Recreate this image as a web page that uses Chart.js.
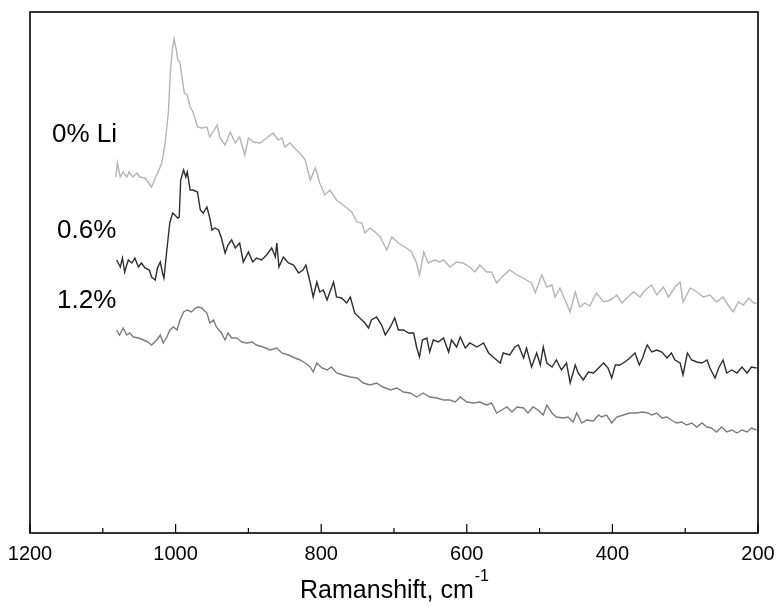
<!DOCTYPE html>
<html>
<head>
<meta charset="utf-8">
<script src="https://cdn.jsdelivr.net/npm/chart.js@4.4.0/dist/chart.umd.min.js"></script>
<style>
  html, body { margin: 0; padding: 0; background: #fff; }
  #wrap { width: 777px; height: 607px; }
</style>
</head>
<body>
<div id="wrap"><canvas id="ramanChart" width="777" height="607"></canvas></div>
<script>
// Raman shift (cm-1) and intensity (arb. units)
const shift0Li = [1082,1080,1076,1072,1067,1064,1059,1053,1049,1042,1038,1033,1028,1024,1019,1015,1010,1007,1004,1002,999,997,994,992,988,984,980,976,970,964,957,953,943,939,932,925,918,912,905,900,893,884,875,866,859,854,850,843,834,827,822,815,808,802,795,788,779,770,758,751,744,740,733,726,719,710,703,694,683,676,669,665,659,653,644,637,632,623,614,605,596,589,582,573,566,559,552,541,531,525,518,511,506,497,490,483,479,472,465,458,451,445,438,431,422,412,403,394,387,380,371,362,355,346,339,330,323,314,307,303,293,284,275,266,257,248,241,234,227,220,213,206,202];
const int0Li = [356,370,356,361,356,361,356,360,356,355,351,346,355,361,370,386,420,463,486,494,483,473,471,460,440,438,426,421,406,405,406,396,408,395,388,401,390,396,378,395,391,390,395,400,393,395,386,390,383,378,373,353,365,350,338,343,333,328,321,311,310,300,305,301,296,283,296,290,285,281,270,258,281,270,273,271,273,266,271,270,266,261,268,261,261,250,256,263,258,256,253,250,240,258,246,248,236,245,233,221,241,226,230,227,240,231,233,238,230,235,241,236,243,248,238,246,236,246,251,231,245,241,236,238,231,236,228,221,231,228,235,230,230];

const shift06 = [1081,1076,1073,1070,1065,1060,1056,1051,1047,1042,1036,1033,1028,1025,1021,1018,1016,1012,1008,1004,1001,997,995,993,989,986,984,980,976,970,966,962,957,953,950,946,941,937,932,928,923,918,912,907,900,894,889,882,875,868,863,861,858,852,845,838,831,825,821,815,811,806,802,797,792,788,783,779,772,765,760,754,747,740,735,731,724,717,712,705,699,694,687,680,673,669,665,661,655,651,646,639,632,625,621,614,609,602,596,586,577,570,564,554,550,541,534,529,522,518,511,504,499,495,490,483,477,470,463,458,451,447,440,433,426,419,412,406,401,396,390,383,376,369,363,358,355,352,346,339,332,325,319,314,307,303,297,291,284,277,270,266,259,254,248,243,236,229,222,215,209,202];
const int06 = [273,266,275,261,273,270,275,266,270,265,263,256,253,265,271,260,255,283,310,320,318,315,316,353,363,356,361,343,343,341,323,320,326,315,303,305,303,295,280,288,293,285,290,271,281,271,275,273,278,285,276,290,266,276,270,268,260,263,268,250,236,251,241,243,233,241,251,236,235,230,236,220,215,210,205,213,216,208,198,206,215,203,203,200,200,186,176,193,195,181,193,191,195,181,193,186,196,185,190,186,190,180,176,170,180,178,186,188,175,185,166,180,168,186,170,166,173,163,170,150,168,160,153,161,160,165,170,165,155,168,168,171,175,180,168,176,183,188,181,183,181,175,180,173,170,158,180,173,171,170,173,165,155,165,173,160,163,160,166,160,166,165];

const shift12 = [1081,1077,1072,1067,1063,1058,1051,1044,1038,1033,1026,1021,1017,1012,1008,1003,998,994,989,984,978,973,969,964,957,953,948,944,937,932,928,923,916,909,902,895,889,880,870,861,854,845,836,829,822,815,811,806,799,792,786,779,770,760,751,742,733,724,715,705,696,687,678,669,660,651,641,632,623,616,609,600,591,582,573,566,559,552,545,538,531,522,516,509,502,495,490,483,477,467,461,454,449,442,435,426,419,415,408,401,394,385,376,367,358,351,346,339,332,325,319,312,305,298,291,284,277,270,264,257,250,243,236,229,222,215,209,202];
const int12 = [203,198,205,198,200,196,195,193,191,188,193,198,190,196,203,206,203,213,221,223,221,225,226,225,220,210,213,206,200,193,200,195,195,191,190,191,188,186,183,185,180,178,175,173,170,166,161,170,165,163,166,160,158,156,155,150,148,150,146,143,145,141,140,136,140,136,135,133,133,131,136,131,130,131,128,130,120,123,126,121,126,125,120,126,123,118,128,120,116,115,116,111,120,110,113,112,118,116,118,110,116,118,120,120,121,120,118,120,115,116,113,110,111,108,110,106,110,106,105,101,106,101,103,100,103,101,105,103];

const xTicks = [1200, 1000, 800, 600, 400, 200];
const seriesLabels = ["0% Li", "0.6%", "1.2%"];

function toPoints(xs, ys) {
  return xs.map((x, i) => ({ x: x, y: ys[i] }));
}

// frame, inward ticks, curve labels and axis title
const decorations = {
  id: "decorations",
  afterDraw(chart) {
    const ctx = chart.ctx;
    const area = chart.chartArea;
    const xScale = chart.scales.x;
    ctx.save();
    ctx.strokeStyle = "#000";
    ctx.lineWidth = 1.6;
    ctx.strokeRect(area.left, area.top, area.right - area.left, area.bottom - area.top);

    ctx.lineWidth = 1.2;
    xScale.ticks.forEach((t) => {
      const px = xScale.getPixelForValue(t.value);
      const len = xTicks.includes(t.value) ? 9 : 5;
      ctx.beginPath();
      ctx.moveTo(px, area.bottom);
      ctx.lineTo(px, area.bottom - len);
      ctx.stroke();
    });

    ctx.fillStyle = "#000";
    ctx.font = "26px 'Liberation Sans', Arial, sans-serif";
    ctx.textBaseline = "middle";
    ctx.textAlign = "left";
    ctx.fillText(seriesLabels[0], area.left + 22, 135);
    ctx.fillText(seriesLabels[1], area.left + 27, 231);
    ctx.fillText(seriesLabels[2], area.left + 27, 301);

    const main = "Ramanshift, cm";
    ctx.font = "25px 'Liberation Sans', Arial, sans-serif";
    const w1 = ctx.measureText(main).width;
    ctx.font = "16px 'Liberation Sans', Arial, sans-serif";
    const w2 = ctx.measureText("-1").width;
    const cx = (area.left + area.right) / 2;
    const startX = cx - (w1 + w2) / 2;
    ctx.font = "25px 'Liberation Sans', Arial, sans-serif";
    ctx.fillText(main, startX, 591);
    ctx.font = "16px 'Liberation Sans', Arial, sans-serif";
    ctx.fillText("-1", startX + w1 + 1, 577);
    ctx.restore();
  },
};

function drawChart() {
  const el = document.getElementById("ramanChart");
  new Chart(el, {
    type: "line",
    data: {
      datasets: [
        {
          label: seriesLabels[0],
          data: toPoints(shift0Li, int0Li),
          borderColor: "#b4b4b4",
          borderWidth: 1.4,
          pointRadius: 0,
        },
        {
          label: seriesLabels[1],
          data: toPoints(shift06, int06),
          borderColor: "#2e2e2e",
          borderWidth: 1.4,
          pointRadius: 0,
        },
        {
          label: seriesLabels[2],
          data: toPoints(shift12, int12),
          borderColor: "#7c7c7c",
          borderWidth: 1.4,
          pointRadius: 0,
        },
      ],
    },
    options: {
      responsive: false,
      animation: false,
      layout: { padding: { left: 30, right: 19, top: 12, bottom: 32 } },
      plugins: {
        legend: { display: false },
        tooltip: { enabled: false },
      },
      scales: {
        x: {
          type: "linear",
          reverse: true,
          min: 200,
          max: 1200,
          border: { display: false },
          grid: { display: false, drawTicks: false },
          ticks: {
            stepSize: 100,
            padding: 9,
            color: "#000",
            font: { family: "'Liberation Sans', Arial, sans-serif", size: 20 },
            callback: (v) => (xTicks.includes(v) ? String(v) : ""),
            maxRotation: 0,
            autoSkip: false,
          },
          // the edge labels fit inside the layout padding already
          afterFit: (scale) => {
            scale.paddingLeft = 0;
            scale.paddingRight = 0;
          },
        },
        y: {
          display: false,
          min: 0,
          max: 521,
        },
      },
    },
    plugins: [decorations],
  });
}

document.addEventListener("DOMContentLoaded", () => drawChart());
</script>
</body>
</html>
